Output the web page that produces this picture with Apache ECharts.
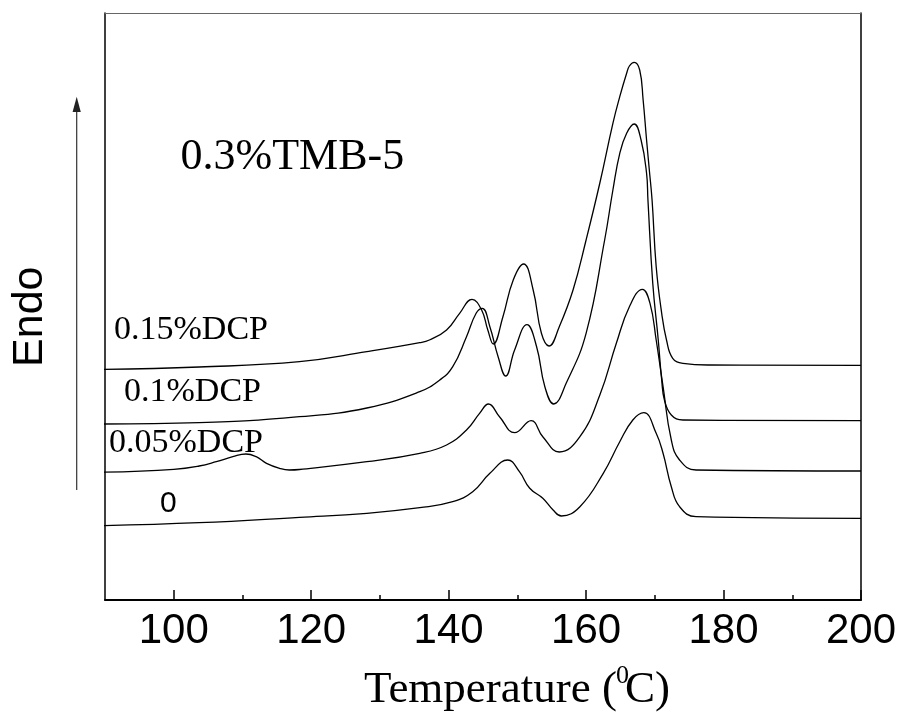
<!DOCTYPE html>
<html>
<head>
<meta charset="utf-8">
<script src="https://cdn.jsdelivr.net/npm/echarts@6/dist/echarts.min.js"></script>
<style>html,body{margin:0;padding:0;background:#fff}#c{width:906px;height:714px}</style>
</head>
<body>
<div id="c"></div>
<script>
// Temperature (°C) and relative heat-flow (a.u.) for each DSC trace
const t015 = [89.3,103.7,118.3,128.1,135.8,137.2,139.7,141.6,143.4,144.8,145.7,146.5,147.9,149.4,150.9,152.3,153.5,154.6,156.1,158.1,160.0,162.0,163.9,164.9,165.9,166.3,167.0,167.8,168.3,168.8,169.2,169.6,170.2,171.0,171.7,172.6,174.1,177.9,200];
const v015 = [230.5,233,238.3,248.3,257.3,260,270,286.7,300.7,290,270,256,283.3,320,336,310,266.7,254,273.3,310,360,417,476.7,503.3,526.7,534,537.7,530,500,460,430,400,333.3,286.7,260,241.7,236.7,235,234.7];

const t010 = [89.3,103.7,118.3,128.1,135.8,138.7,140.6,142.6,144.0,144.9,146.0,147.2,148.3,149.6,151.4,152.8,154.0,155.3,157.1,160.0,162.7,163.9,164.9,165.9,167.0,168.0,168.8,169.0,169.7,170.5,171.0,171.4,172.4,174.1,200];
const v010 = [176,177.3,183.3,192,208.3,220,233.3,263.3,286.7,291.7,273.3,243.3,224,250,275.3,253.3,213.3,196,216.7,266.7,360,410,446.7,466.7,476,460,426.7,400,316.7,260,220,200,185,180,179.3];

const t005 = [89.3,100.0,103.7,106.2,108.6,110.5,112.0,113.5,115.4,116.8,118.3,128.1,135.8,139.7,142.6,144.5,145.8,147.4,149.6,152.0,153.7,156.1,159.1,162.0,164.4,166.3,168.2,169.3,170.2,171.2,172.4,173.6,176.0,200];
const v005 = [127.7,130.7,134,138.3,143.3,146,143.3,136.7,131.7,130,130.5,138.3,146.7,155,170,186.7,196,183.3,167.3,179.3,163.3,148,163.3,205,256.7,293.3,310.7,296.7,260,213.3,160,140,130,129];

const t000 = [89.3,103.7,118.3,128.1,135.8,140.6,143.5,146.0,148.6,150.3,151.8,153.7,155.2,156.4,159.1,162.5,164.9,166.8,168.4,170.2,171.2,172.4,173.6,176.0,200];
const v000 = [74.3,77.3,82.7,86.7,92.3,98.3,108.3,126.7,140,128.3,111.7,101.7,90,84,93.3,126.7,158.3,180,187.3,166.7,146.7,113.3,93.3,83.3,81.7];

const seriesNames = ['0.15%DCP','0.1%DCP','0.05%DCP','0'];
const majorTicks = [100,120,140,160,180,200];
const minorTicks = [110,130,150,170,190];
const xTitleParts = ['Temperature (','0','C)'];
const sampleTitle = '0.3%TMB-5';
const yTitle = 'Endo';

function zip(t, v){ return t.map((x,i)=>[x, v[i]]); }
const traces = [zip(t015,v015), zip(t010,v010), zip(t005,v005), zip(t000,v000)];

const serif = '"Liberation Serif","Times New Roman",serif';
const sans = '"Liberation Sans",Arial,sans-serif';

function txt(text, x, y, size, family, align, extra){
  return Object.assign({
    type:'text', x:x, y:y, silent:true,
    style:{text:text, font: size+'px '+family, fill:'#000',
      align:align, verticalAlign:'middle', textAlign:align, textVerticalAlign:'middle'}
  }, extra||{});
}

const chart = echarts.init(document.getElementById('c'), null, {renderer:'canvas'});
chart.setOption({
  animation:false,
  backgroundColor:'#fff',
  grid:{left:105, right:45, top:13, bottom:114, containLabel:false, outerBoundsMode:'none'},
  xAxis:[
    {type:'value', position:'bottom', min:90, max:200, interval:10,
     axisLine:{show:true, onZero:false, lineStyle:{color:'#000', width:2}},
     axisTick:{show:true, inside:true, length:10, customValues:majorTicks, lineStyle:{color:'#000', width:1.5}},
     axisLabel:{show:true, customValues:majorTicks, margin:10, color:'#000', fontSize:42, fontFamily:sans},
     splitLine:{show:false}},
    {type:'value', position:'bottom', min:90, max:200, interval:10,
     axisLine:{show:false, onZero:false},
     axisTick:{show:true, inside:true, length:5, customValues:minorTicks, lineStyle:{color:'#000', width:1.5}},
     axisLabel:{show:false}, splitLine:{show:false}},
    {type:'value', position:'top', min:90, max:200, interval:10,
     axisLine:{show:true, onZero:false, lineStyle:{color:'#666', width:1}},
     axisTick:{show:false}, axisLabel:{show:false}, splitLine:{show:false}}
  ],
  yAxis:[
    {type:'value', position:'left', min:0, max:587,
     axisLine:{show:true, onZero:false, lineStyle:{color:'#000', width:1.5}},
     axisTick:{show:false}, axisLabel:{show:false}, splitLine:{show:false}},
    {type:'value', position:'right', min:0, max:587,
     axisLine:{show:true, onZero:false, lineStyle:{color:'#000', width:1.5}},
     axisTick:{show:false}, axisLabel:{show:false}, splitLine:{show:false}}
  ],
  series: traces.map((d,i)=>({
    name: seriesNames[i], type:'line', data:d, xAxisIndex:0, yAxisIndex:0,
    showSymbol:false, symbol:'none', smooth:0.45, clip:false,
    lineStyle:{color:'#000', width:1.3}
  })),
  graphic:[
    {type:'line', silent:true, shape:{x1:76.7, y1:490, x2:76.7, y2:108}, style:{stroke:'#333', lineWidth:1.2}},
    {type:'polygon', silent:true, shape:{points:[[76.7,96.7],[72.6,112],[80.8,112]]}, style:{fill:'#222'}},
    txt(yTitle, 30, 316.7, 43, sans, 'center', {rotation: Math.PI/2}),
    txt(sampleTitle, 180.5, 157.8, 44, serif, 'left'),
    txt(seriesNames[0], 114, 330.2, 34, serif, 'left'),
    txt(seriesNames[1], 124, 391.8, 34, serif, 'left'),
    txt(seriesNames[2], 109, 443.5, 34, serif, 'left'),
    txt(seriesNames[3], 160, 503.9, 30, sans, 'left'),
    txt(xTitleParts[0], 617, 689.8, 45, serif, 'right'),
    txt(xTitleParts[1], 616, 676, 26, serif, 'left'),
    txt(xTitleParts[2], 625, 689.8, 45, serif, 'left')
  ]
});
</script>
</body>
</html>
